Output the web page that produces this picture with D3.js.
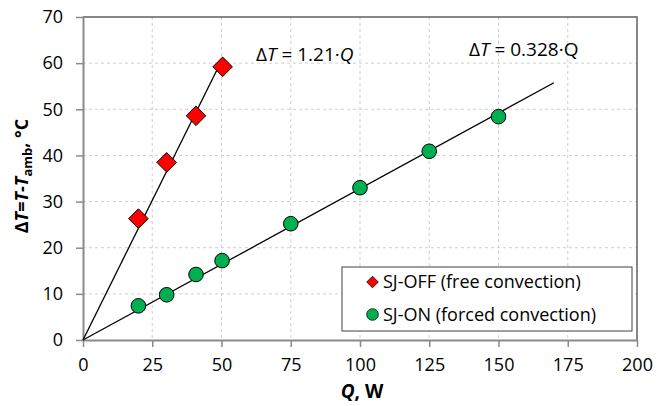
<!DOCTYPE html>
<html><head><meta charset="utf-8">
<script src="https://cdn.jsdelivr.net/npm/d3@7"></script>
<style>body{margin:0;background:#fff}svg{display:block;font-family:"Open Sans",sans-serif}</style>
</head><body><svg id="c" width="657" height="406"></svg>
<script>
const offQ = [20, 30.2, 40.8, 50.4];
const offT = [26.3, 38.5, 48.6, 59.2];
const onQ = [20, 30.2, 40.8, 50.2, 75, 100, 125, 150];
const onT = [7.4, 9.8, 14.2, 17.2, 25.2, 33.0, 40.9, 48.4];
const offSlope = 1.21, offFitMax = 50;
const onSlope = 0.328, onFitMax = 170;
const xTicks = [0, 25, 50, 75, 100, 125, 150, 175, 200];
const yTicks = [0, 10, 20, 30, 40, 50, 60, 70];
const legendLabels = ["SJ-OFF (free convection)", "SJ-ON (forced convection)"];

const svg = d3.select("#c");
const L = 83, R = 637, T = 17, B = 340;
const x = d3.scaleLinear().domain([0, 200]).range([L, R]);
const y = d3.scaleLinear().domain([0, 70]).range([B, T]);

// grid
const g = svg.append("g");
g.selectAll("line.vx").data(xTicks.slice(1, -1)).join("line")
  .attr("x1", d => x(d)).attr("x2", d => x(d)).attr("y1", T).attr("y2", B)
  .attr("stroke", "#cfcfcf").attr("stroke-dasharray", "3,3");
g.selectAll("line.hy").data(yTicks.slice(1, -1)).join("line")
  .attr("y1", d => y(d)).attr("y2", d => y(d)).attr("x1", L).attr("x2", R)
  .attr("stroke", "#cfcfcf").attr("stroke-dasharray", "3,3");

// top/right border
svg.append("path").attr("d", `M${L},${T}H${R}V${B}`).attr("fill", "none")
  .attr("stroke", "#606060").attr("stroke-width", 1.5);

// axes
const xa = svg.append("g").attr("transform", `translate(0,${B})`)
  .call(d3.axisBottom(x).tickValues(xTicks).tickSize(7).tickPadding(11).tickSizeOuter(0));
const ya = svg.append("g").attr("transform", `translate(${L},0)`)
  .call(d3.axisLeft(y).tickValues(yTicks).tickSize(7).tickPadding(13).tickSizeOuter(0));
[xa, ya].forEach(a => {
  a.select(".domain").attr("stroke", "#8a8a8a").attr("stroke-width", 2);
  a.selectAll(".tick line").attr("stroke", "#8a8a8a").attr("stroke-width", 1.5);
  a.selectAll(".tick text").attr("font-family", "Open Sans").attr("font-size", 18).attr("fill", "#000");
});

// fit lines
const line = d3.line().x(d => x(d[0])).y(d => y(d[1]));
svg.append("path").attr("d", line([[0, 0], [offFitMax, offSlope * offFitMax]]))
  .attr("stroke", "#000").attr("stroke-width", 1.3).attr("fill", "none");
svg.append("path").attr("d", line([[0, 0], [onFitMax, onSlope * onFitMax]]))
  .attr("stroke", "#000").attr("stroke-width", 1.3).attr("fill", "none");

// markers
function dpath(h) { return `M0,${-h}L${h},0L0,${h}L${-h},0Z`; }
svg.selectAll("path.off").data(offQ.map((q, i) => [q, offT[i]])).join("path")
  .attr("d", dpath(9.8)).attr("transform", d => `translate(${x(d[0])},${y(d[1])})`)
  .attr("fill", "#ff0000").attr("stroke", "#000").attr("stroke-width", 1);
svg.selectAll("circle.on").data(onQ.map((q, i) => [q, onT[i]])).join("circle")
  .attr("cx", d => x(d[0])).attr("cy", d => y(d[1])).attr("r", 7.3)
  .attr("fill", "#00b050").attr("stroke", "#000").attr("stroke-width", 1);

// annotations
const a1 = svg.append("text").attr("x", 256).attr("y", 61).attr("font-size", 19);
a1.append("tspan").text("Δ");
a1.append("tspan").attr("font-style", "italic").text("T");
a1.append("tspan").text(" = 1.21·");
a1.append("tspan").attr("font-style", "italic").text("Q");
const a2 = svg.append("text").attr("x", 469).attr("y", 56).attr("font-size", 19);
a2.append("tspan").text("Δ");
a2.append("tspan").attr("font-style", "italic").text("T");
a2.append("tspan").text(" = 0.328·Q");

// legend
svg.append("rect").attr("x", 342).attr("y", 267).attr("width", 290).attr("height", 64)
  .attr("fill", "#fff").attr("stroke", "#404040").attr("stroke-width", 1);
svg.append("path").attr("d", dpath(5.8)).attr("transform", "translate(372.5,282)")
  .attr("fill", "#ff0000").attr("stroke", "#000").attr("stroke-width", 0.8);
svg.append("circle").attr("cx", 372.5).attr("cy", 314.5).attr("r", 5.8)
  .attr("fill", "#00b050").attr("stroke", "#000").attr("stroke-width", 0.8);
svg.selectAll("text.lg").data(legendLabels).join("text")
  .attr("x", 383).attr("y", (d, i) => 282 + i * 32.5).attr("dy", "0.35em")
  .attr("font-size", 18).text(d => d);

// axis titles
const xt = svg.append("text").attr("x", 362).attr("y", 398).attr("text-anchor", "middle")
  .attr("font-size", 19).attr("font-weight", "bold");
xt.append("tspan").attr("font-style", "italic").text("Q");
xt.append("tspan").text(", W");
const yt = svg.append("text").attr("transform", "translate(28,176) rotate(-90)")
  .attr("text-anchor", "middle").attr("font-size", 18).attr("font-weight", "bold");
yt.append("tspan").text("Δ");
yt.append("tspan").attr("font-style", "italic").text("T");
yt.append("tspan").text("=");
yt.append("tspan").attr("font-style", "italic").text("T");
yt.append("tspan").text("-");
yt.append("tspan").attr("font-style", "italic").text("T");
yt.append("tspan").attr("font-size", 13).attr("dy", 4).text("amb");
yt.append("tspan").attr("dy", -4).text(", °C");
</script></body></html>
